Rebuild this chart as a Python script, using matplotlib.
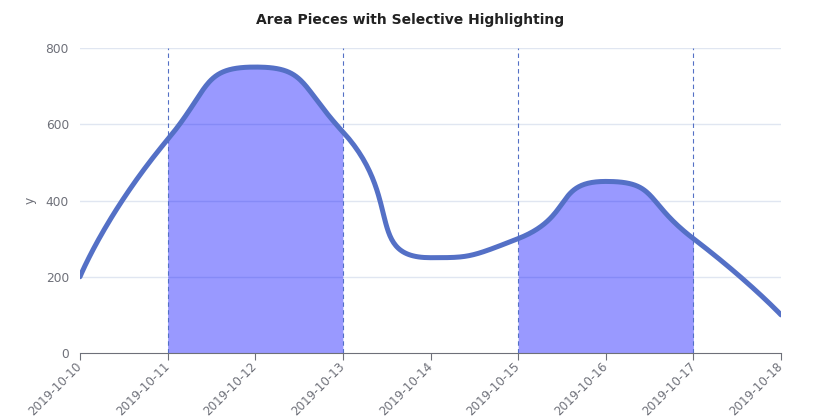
import numpy as np
import matplotlib
matplotlib.use("Agg")
import matplotlib.pyplot as plt

dates = ["2019-10-10", "2019-10-11", "2019-10-12", "2019-10-13", "2019-10-14",
         "2019-10-15", "2019-10-16", "2019-10-17", "2019-10-18"]
values = [200, 560, 750, 580, 250, 300, 450, 300, 100]
pieces = [(1, 3), (5, 7)]
mark_lines = [1, 3, 5, 7]

line_color = "#5470c6"
fill_color = (0, 0, 1, 0.4)
axis_color = "#6e7079"
grid_color = "#e0e6f1"
smooth = 0.6


def echarts_smooth(px, py, smooth):
    # port of the echarts poly smoothing, works in pixel space
    out_x = [px[0]]
    out_y = [py[0]]
    cpx0, cpy0 = px[0], py[0]
    n = len(px)
    for i in range(1, n):
        x, y = px[i], py[i]
        prevX, prevY = px[i - 1], py[i - 1]
        if i == n - 1:
            cpx1, cpy1 = x, y
            ncx, ncy = x, y
        else:
            nextX, nextY = px[i + 1], py[i + 1]
            vx, vy = nextX - prevX, nextY - prevY
            lp = np.hypot(x - prevX, y - prevY)
            ln = np.hypot(nextX - x, nextY - y)
            r = ln / (ln + lp)
            ncx = x + vx * smooth * r
            ncy = y + vy * smooth * r
            ncx = min(ncx, max(nextX, x)); ncy = min(ncy, max(nextY, y))
            ncx = max(ncx, min(nextX, x)); ncy = max(ncy, min(nextY, y))
            vx, vy = ncx - x, ncy - y
            cpx1 = x - vx * lp / ln
            cpy1 = y - vy * lp / ln
            cpx1 = min(cpx1, max(prevX, x)); cpy1 = min(cpy1, max(prevY, y))
            cpx1 = max(cpx1, min(prevX, x)); cpy1 = max(cpy1, min(prevY, y))
            vx, vy = x - cpx1, y - cpy1
            ncx = x + vx * ln / lp
            ncy = y + vy * ln / lp
        t = np.linspace(0, 1, 60)[1:]
        bx = ((1 - t) ** 3 * prevX + 3 * (1 - t) ** 2 * t * cpx0
              + 3 * (1 - t) * t ** 2 * cpx1 + t ** 3 * x)
        by = ((1 - t) ** 3 * prevY + 3 * (1 - t) ** 2 * t * cpy0
              + 3 * (1 - t) * t ** 2 * cpy1 + t ** 3 * y)
        out_x.extend(bx)
        out_y.extend(by)
        cpx0, cpy0 = ncx, ncy
    return np.array(out_x), np.array(out_y)


fig = plt.figure(figsize=(8.21, 4.2), dpi=100)
ax = fig.add_axes([80 / 821, 1 - 353 / 420, 701 / 821, 305 / 420])
ax.set_xlim(0, len(dates) - 1)
ax.set_ylim(0, 800)

xs = np.arange(len(dates))
pts = ax.transData.transform(np.column_stack([xs, values]))
sx, sy = echarts_smooth(pts[:, 0], pts[:, 1], smooth)
curve = ax.transData.inverted().transform(np.column_stack([sx, sy]))
cx, cy = curve[:, 0], curve[:, 1]

for y in [200, 400, 600, 800]:
    ax.axhline(y, color=grid_color, lw=1, zorder=0)

for lo, hi in pieces:
    mask = (cx >= lo - 1e-6) & (cx <= hi + 1e-6)
    ax.fill_between(cx[mask], 0, cy[mask], color=fill_color, lw=0, zorder=1)

for m in mark_lines:
    ax.plot([m, m], [0, 800], color=line_color, lw=0.8, ls=(0, (4, 3)), zorder=2)

ax.plot(cx, cy, color=line_color, lw=3.6, solid_capstyle="round", zorder=3)

ax.set_yticks([0, 200, 400, 600, 800])
ax.set_xticks(xs)
ax.set_xticklabels(dates, rotation=45, ha="right", va="center", rotation_mode="anchor")
ax.tick_params(axis="y", length=0, pad=8, labelcolor=axis_color, labelsize=8.8)
ax.tick_params(axis="x", length=5, color=axis_color, labelcolor=axis_color,
               labelsize=8.6, pad=3.5)
for s in ["top", "right", "left"]:
    ax.spines[s].set_visible(False)
ax.spines["bottom"].set_color(axis_color)

fig.text(30 / 821, 1 - 200 / 420, "y", rotation=90, ha="center", va="center",
         color=axis_color, fontsize=8.8)

fig.text(0.5, 1 - 20 / 420, "Area Pieces with Selective Highlighting",
         ha="center", va="center", fontsize=10, fontweight="bold", color="#222222")

fig.savefig("out.png", dpi=100)
